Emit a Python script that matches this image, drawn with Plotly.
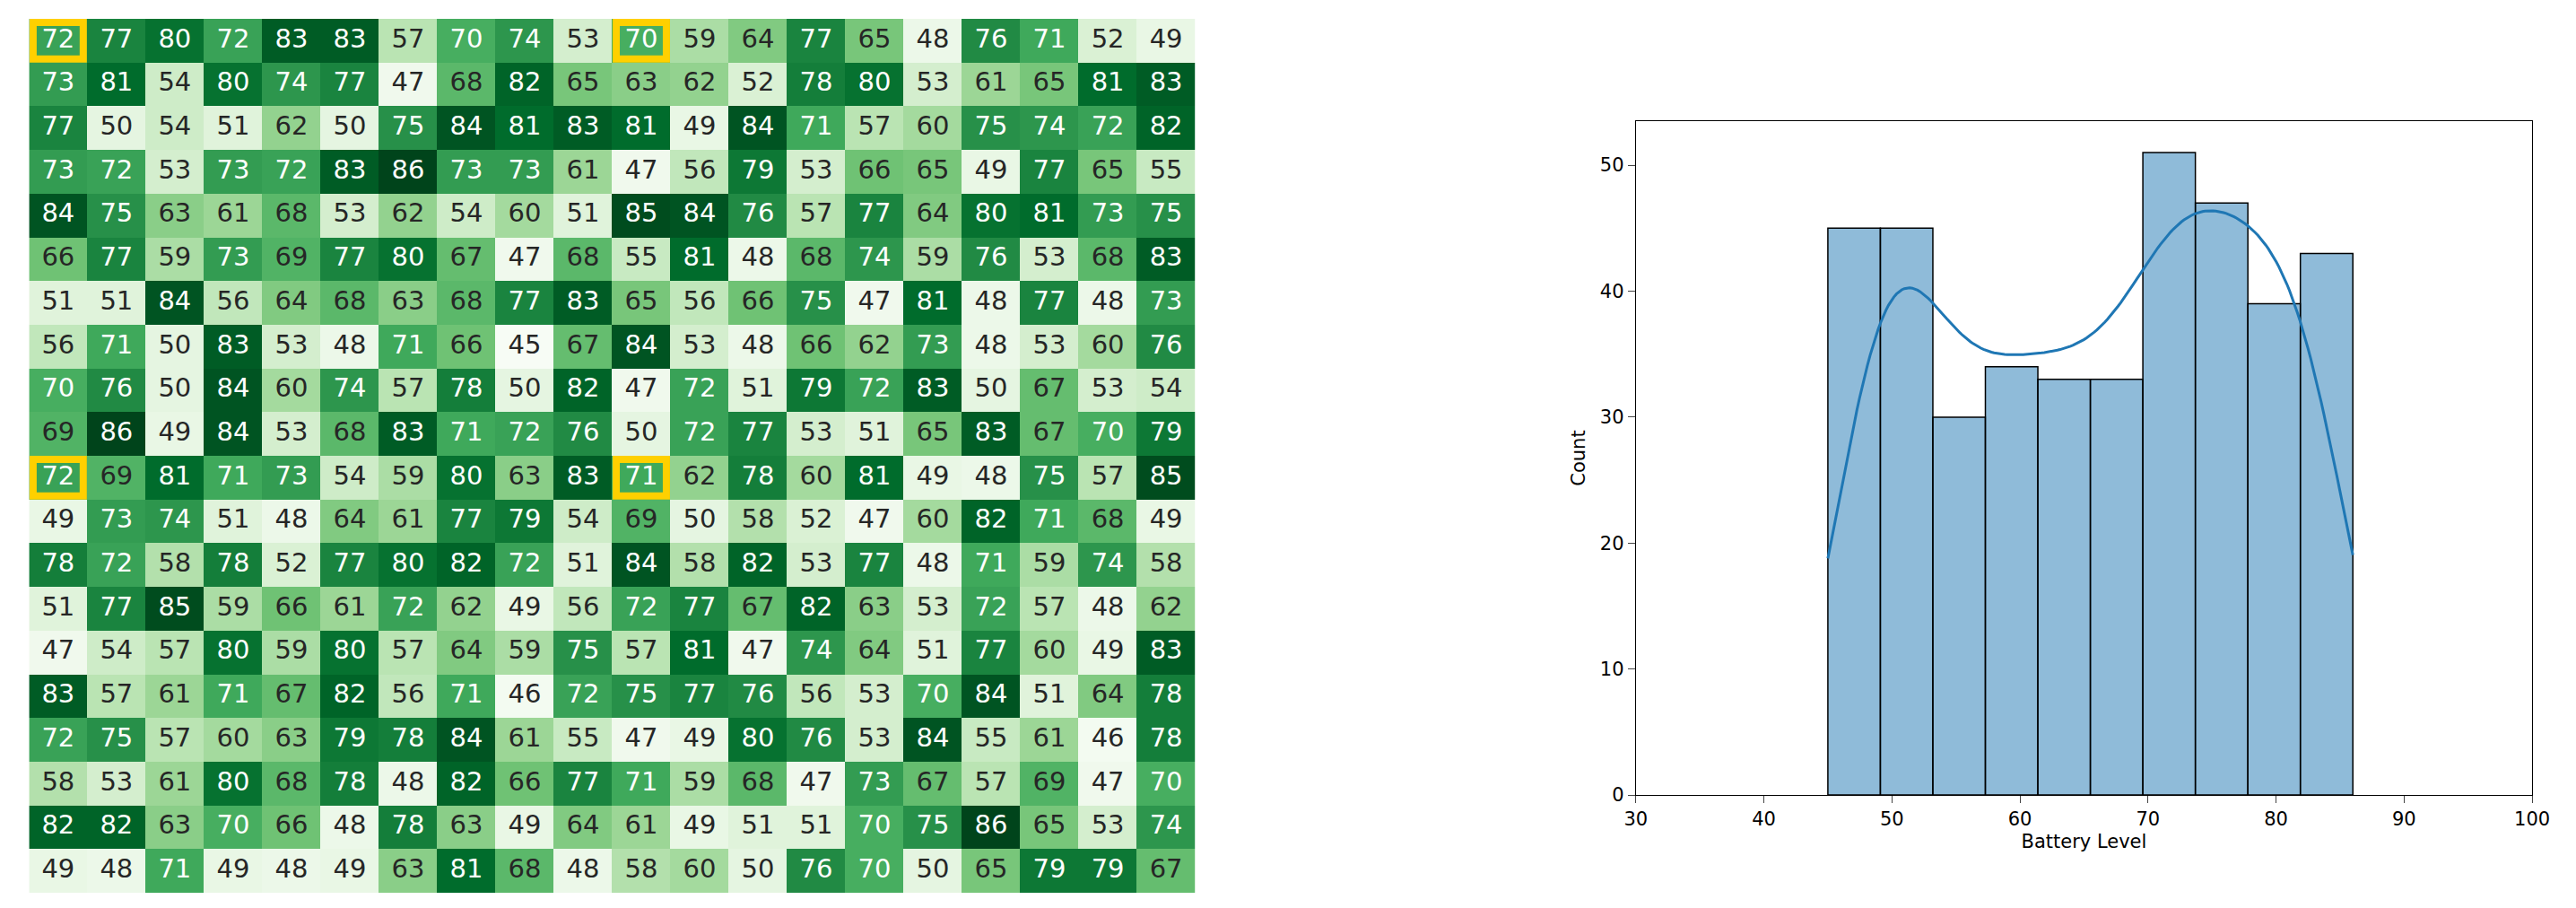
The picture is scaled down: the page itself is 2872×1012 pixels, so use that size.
import numpy as np
import plotly.graph_objects as go

grid = [
    [72, 77, 80, 72, 83, 83, 57, 70, 74, 53, 70, 59, 64, 77, 65, 48, 76, 71, 52, 49],
    [73, 81, 54, 80, 74, 77, 47, 68, 82, 65, 63, 62, 52, 78, 80, 53, 61, 65, 81, 83],
    [77, 50, 54, 51, 62, 50, 75, 84, 81, 83, 81, 49, 84, 71, 57, 60, 75, 74, 72, 82],
    [73, 72, 53, 73, 72, 83, 86, 73, 73, 61, 47, 56, 79, 53, 66, 65, 49, 77, 65, 55],
    [84, 75, 63, 61, 68, 53, 62, 54, 60, 51, 85, 84, 76, 57, 77, 64, 80, 81, 73, 75],
    [66, 77, 59, 73, 69, 77, 80, 67, 47, 68, 55, 81, 48, 68, 74, 59, 76, 53, 68, 83],
    [51, 51, 84, 56, 64, 68, 63, 68, 77, 83, 65, 56, 66, 75, 47, 81, 48, 77, 48, 73],
    [56, 71, 50, 83, 53, 48, 71, 66, 45, 67, 84, 53, 48, 66, 62, 73, 48, 53, 60, 76],
    [70, 76, 50, 84, 60, 74, 57, 78, 50, 82, 47, 72, 51, 79, 72, 83, 50, 67, 53, 54],
    [69, 86, 49, 84, 53, 68, 83, 71, 72, 76, 50, 72, 77, 53, 51, 65, 83, 67, 70, 79],
    [72, 69, 81, 71, 73, 54, 59, 80, 63, 83, 71, 62, 78, 60, 81, 49, 48, 75, 57, 85],
    [49, 73, 74, 51, 48, 64, 61, 77, 79, 54, 69, 50, 58, 52, 47, 60, 82, 71, 68, 49],
    [78, 72, 58, 78, 52, 77, 80, 82, 72, 51, 84, 58, 82, 53, 77, 48, 71, 59, 74, 58],
    [51, 77, 85, 59, 66, 61, 72, 62, 49, 56, 72, 77, 67, 82, 63, 53, 72, 57, 48, 62],
    [47, 54, 57, 80, 59, 80, 57, 64, 59, 75, 57, 81, 47, 74, 64, 51, 77, 60, 49, 83],
    [83, 57, 61, 71, 67, 82, 56, 71, 46, 72, 75, 77, 76, 56, 53, 70, 84, 51, 64, 78],
    [72, 75, 57, 60, 63, 79, 78, 84, 61, 55, 47, 49, 80, 76, 53, 84, 55, 61, 46, 78],
    [58, 53, 61, 80, 68, 78, 48, 82, 66, 77, 71, 59, 68, 47, 73, 67, 57, 69, 47, 70],
    [82, 82, 63, 70, 66, 48, 78, 63, 49, 64, 61, 49, 51, 51, 70, 75, 86, 65, 53, 74],
    [49, 48, 71, 49, 48, 49, 63, 81, 68, 48, 58, 60, 50, 76, 70, 50, 65, 79, 79, 67],
]
highlight_cells = [(0, 0), (0, 10), (10, 0), (10, 10)]

bin_edges = [45.0, 49.1, 53.2, 57.3, 61.4, 65.5, 69.6, 73.7, 77.8, 81.9, 86.0]
bin_counts = [45, 45, 30, 34, 33, 33, 51, 47, 39, 43]

z = np.array(grid)
n_rows, n_cols = z.shape

fig = go.Figure()

fig.add_trace(go.Heatmap(
    z=z, colorscale="Greens", showscale=False,
    xaxis="x", yaxis="y", hoverinfo="skip",
))

# cell labels
xs, ys, txt, cols = [], [], [], []
for r in range(n_rows):
    for c in range(n_cols):
        xs.append(c)
        ys.append(r)
        txt.append(str(grid[r][c]))
        cols.append("white" if grid[r][c] >= 70 else "#262626")
fig.add_trace(go.Scatter(
    x=xs, y=ys, text=txt, mode="text",
    textfont=dict(size=29, color=cols, family="DejaVu Sans"),
    xaxis="x", yaxis="y", showlegend=False, hoverinfo="skip",
))

for r, c in highlight_cells:
    fig.add_shape(type="rect", xref="x", yref="y",
                  x0=c - 0.43, x1=c + 0.43, y0=r - 0.42, y1=r + 0.42,
                  line=dict(color="#FFD000", width=8))

# histogram
centers = [(a + b) / 2 for a, b in zip(bin_edges[:-1], bin_edges[1:])]
widths = [b - a for a, b in zip(bin_edges[:-1], bin_edges[1:])]
fig.add_trace(go.Bar(
    x=centers, y=bin_counts, width=widths,
    marker=dict(color="rgba(31,119,180,0.5)", line=dict(color="black", width=1.5)),
    xaxis="x2", yaxis="y2", showlegend=False,
))

# kde from the grid values
vals = z.ravel().astype(float)
bw = vals.std(ddof=1) * len(vals) ** (-0.2)
grid_x = np.linspace(vals.min(), vals.max(), 200)
dens = np.exp(-0.5 * ((grid_x[:, None] - vals[None, :]) / bw) ** 2).sum(axis=1)
dens = dens / (len(vals) * bw * np.sqrt(2 * np.pi))
kde_y = dens * len(vals) * widths[0]
fig.add_trace(go.Scatter(
    x=grid_x, y=kde_y, mode="lines", line=dict(color="#1f77b4", width=3),
    xaxis="x2", yaxis="y2", showlegend=False,
))

fig.update_layout(
    width=2872, height=1012,
    margin=dict(l=0, r=0, t=0, b=0),
    plot_bgcolor="white", paper_bgcolor="white",
    font=dict(family="DejaVu Sans", size=21, color="black"),
    xaxis=dict(domain=[0.004, 0.462], range=[-0.5, n_cols - 0.5],
               showticklabels=False, showgrid=False, zeroline=False, ticks=""),
    yaxis=dict(domain=[0.013, 0.987], range=[n_rows - 0.5, -0.5],
               showticklabels=False, showgrid=False, zeroline=False, ticks=""),
    xaxis2=dict(domain=[0.635, 0.987], range=[30, 100], anchor="y2",
                tickvals=[30, 40, 50, 60, 70, 80, 90, 100],
                showgrid=False, zeroline=False, ticks="outside", ticklen=8,
                showline=True, linecolor="black", mirror=True,
                title=dict(text="Battery Level", standoff=6, font=dict(size=21))),
    yaxis2=dict(domain=[0.122, 0.873], range=[0, 53.5], anchor="x2",
                tickvals=[0, 10, 20, 30, 40, 50],
                showgrid=False, zeroline=False, ticks="outside", ticklen=8,
                showline=True, linecolor="black", mirror=True,
                title=dict(text="Count", standoff=10, font=dict(size=21))),
)

fig.write_html("out.html")
